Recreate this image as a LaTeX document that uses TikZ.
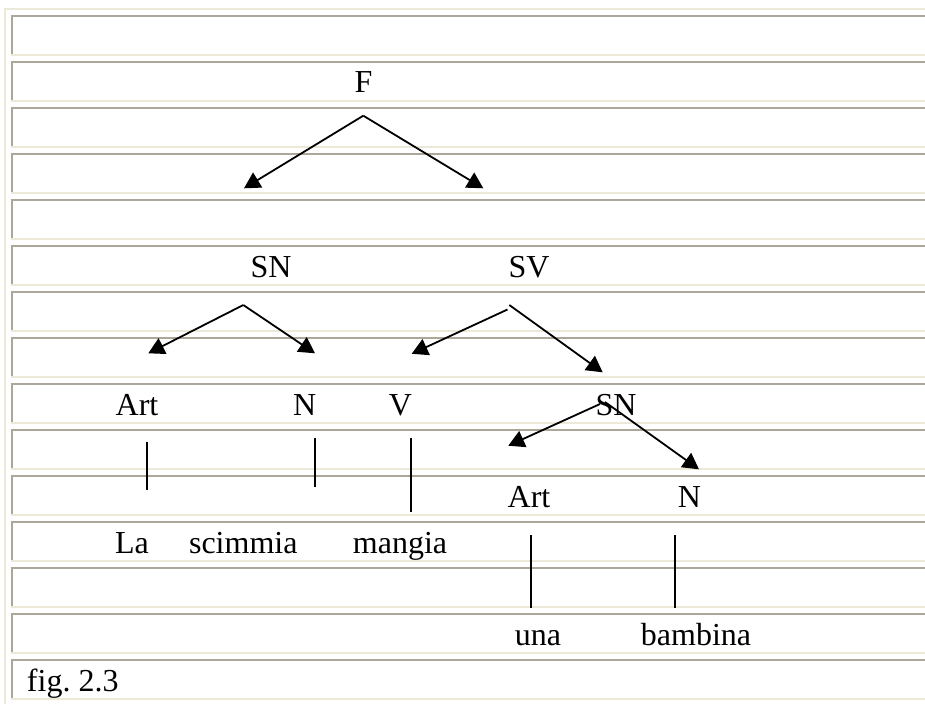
\documentclass[tikz,border=0pt]{standalone}
\usepackage{fontspec}
\setmainfont{Liberation Serif}
\usetikzlibrary{arrows.meta}
\definecolor{cellshadow}{HTML}{ACA899}
\definecolor{cellface}{HTML}{ECE9D8}
\begin{document}
\begin{tikzpicture}[x=0.75pt,y=-0.75pt,
  lbl/.style={inner sep=0pt, anchor=base, font=\fontsize{24}{28}\selectfont},
  branch/.style={line width=1.35pt, -{Triangle[length=12pt,width=13pt]}},
  stem/.style={line width=1.35pt}]
\useasboundingbox (0,0) rectangle (925,704);
\fill[white] (0,0) rectangle (925,704);

% outer table frame
\fill[cellface] (4,8) rectangle (6,704);
\fill[cellface] (4,8) rectangle (925,10);

% fifteen inset rows
\foreach \i in {0,...,14}{
  \pgfmathsetmacro{\t}{15+46*\i}
  \fill[cellshadow] (11,\t) rectangle (925,\t+2);
  \fill[cellshadow] (11,\t) rectangle (13,\t+39);
  \fill[cellface] (11,\t+39) rectangle (925,\t+41);
}

% labels
\node[lbl] (F) at (363.5,92.5) {F};
\node[lbl] (SNa) at (271,277.5) {SN};
\node[lbl] (SV) at (529,277.5) {SV};
\node[lbl] (ArtA) at (137,415.5) {Art};
\node[lbl] (NA) at (304.7,415.5) {N};
\node[lbl] (V) at (400.5,415.5) {V};
\node[lbl] (SNb) at (616,415.5) {SN};
\node[lbl] (ArtB) at (529,507.5) {Art};
\node[lbl] (NB) at (689.5,507.5) {N};
\node[lbl] (La) at (132,553.5) {La};
\node[lbl] (scimmia) at (243.3,553.5) {scimmia};
\node[lbl] (mangia) at (400,553.5) {mangia};
\node[lbl] (una) at (538,645.5) {una};
\node[lbl] (bambina) at (696,645.5) {bambina};
\node[lbl, anchor=base west] (fig) at (26.7,691.7) {fig.\ 2.3};

% branch end points
\coordinate (fTop) at (363.3,115.7);
\coordinate (fL) at (244,188.3);
\coordinate (fR) at (483.3,188.3);
\coordinate (snTop) at (243.3,305);
\coordinate (snL) at (148.3,353.3);
\coordinate (snR) at (315,353.3);
\coordinate (svTopL) at (507.5,309.5);
\coordinate (svTopR) at (509.3,305);
\coordinate (svL) at (411.7,353.8);
\coordinate (svR) at (602.7,372.3);
\coordinate (sn2TopL) at (600,404);
\coordinate (sn2TopR) at (605,402);
\coordinate (sn2L) at (508.3,445.7);
\coordinate (sn2R) at (699,469.3);

% stem end points
\coordinate (s1a) at (147.3,441.7); \coordinate (s1b) at (147.3,490);
\coordinate (s2a) at (315.3,438.3); \coordinate (s2b) at (315.3,487.3);
\coordinate (s3a) at (411,438.3);   \coordinate (s3b) at (411,511.7);
\coordinate (s4a) at (531,535);     \coordinate (s4b) at (531,607.7);
\coordinate (s5a) at (675.3,535);   \coordinate (s5b) at (675.3,607.7);

% branches
\draw[branch] (fTop) -- (fL);
\draw[branch] (fTop) -- (fR);
\draw[branch] (snTop) -- (snL);
\draw[branch] (snTop) -- (snR);
\draw[branch] (svTopL) -- (svL);
\draw[branch] (svTopR) -- (svR);
\draw[branch] (sn2TopL) -- (sn2L);
\draw[branch] (sn2TopR) -- (sn2R);

% stems
\draw[stem] (s1a) -- (s1b);
\draw[stem] (s2a) -- (s2b);
\draw[stem] (s3a) -- (s3b);
\draw[stem] (s4a) -- (s4b);
\draw[stem] (s5a) -- (s5b);
\end{tikzpicture}
\end{document}
